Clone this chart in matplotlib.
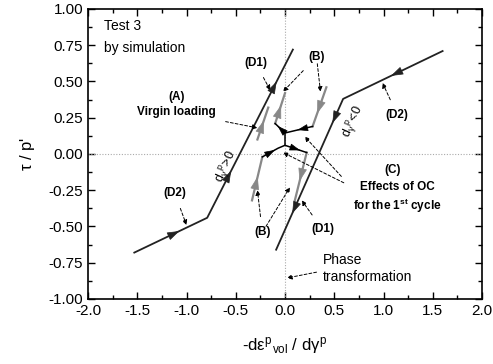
import matplotlib
matplotlib.use("Agg")
import matplotlib.pyplot as plt
from matplotlib.ticker import MultipleLocator

plt.rcParams['font.family'] = ['Liberation Sans', 'DejaVu Sans']
plt.rcParams['mathtext.fontset'] = 'custom'
plt.rcParams['mathtext.rm'] = 'Liberation Sans'
plt.rcParams['mathtext.it'] = 'Liberation Sans'
plt.rcParams['mathtext.bf'] = 'Liberation Sans:bold'

# main stress paths (black)
left_x = [-1.53, -0.79, 0.08]
left_y = [-0.68, -0.44, 0.72]
right_x = [1.60, 0.59, -0.09]
right_y = [0.71, 0.38, -0.66]

# grey (B) unloading / reloading segments
grey_x = [[-0.28, -0.17], [-0.10, 0.00], [0.42, 0.28], [-0.335, -0.23], [0.22, 0.10]]
grey_y = [[0.10, 0.32], [0.21, 0.42], [0.46, 0.19], [-0.32, -0.02], [0.01, -0.32]]

# black effects of OC in the middle
oc_up_x = [0.28, 0.00, -0.10]
oc_up_y = [0.19, 0.145, 0.21]
oc_mid_x = [0.00, 0.00]
oc_mid_y = [0.145, 0.06]
oc_low_x = [-0.23, -0.07, 0.00, 0.22]
oc_low_y = [-0.02, 0.04, 0.06, 0.01]


def arrow_on(ax, x0, y0, x1, y1, frac, color, size=13):
    # arrowhead placed at frac along a segment, pointing from 0 to 1
    px = x0 + (x1 - x0) * frac
    py = y0 + (y1 - y0) * frac
    bx = x0 + (x1 - x0) * (frac - 0.02)
    by = y0 + (y1 - y0) * (frac - 0.02)
    ax.annotate('', xy=(px, py), xytext=(bx, by),
                arrowprops=dict(arrowstyle='-|>,head_length=0.6,head_width=0.2',
                                color=color, lw=0.5,
                                mutation_scale=size, shrinkA=0, shrinkB=0))


def leader(ax, text, xy, xytext, **kw):
    ax.annotate(text, xy=xy, xytext=xytext, ha='center', va='center',
                fontsize=8.5, fontweight='bold',
                arrowprops=dict(arrowstyle='-|>', color='black', lw=0.7,
                                linestyle=(0, (3, 2)), mutation_scale=7,
                                shrinkA=5, shrinkB=0), **kw)


fig = plt.figure(figsize=(4.93, 3.64), dpi=100)
ax = fig.add_axes([0.1785, 0.1786, 0.7992, 0.7967])

ax.axhline(0, color='#aaaaaa', lw=0.8, ls=(0, (1, 1.5)))
ax.axvline(0, color='#aaaaaa', lw=0.8, ls=(0, (1, 1.5)))

dark = '#222222'
grey = '#888888'
ax.plot(left_x, left_y, color=dark, lw=1.3)
ax.plot(right_x, right_y, color=dark, lw=1.3)
arrow_on(ax, left_x[0], left_y[0], left_x[1], left_y[1], 0.62, dark)
arrow_on(ax, left_x[1], left_y[1], left_x[2], left_y[2], 0.28, dark)
arrow_on(ax, left_x[1], left_y[1], left_x[2], left_y[2], 0.81, dark)
arrow_on(ax, right_x[0], right_y[0], right_x[1], right_y[1], 0.52, dark)
arrow_on(ax, right_x[1], right_y[1], right_x[2], right_y[2], 0.16, dark)
arrow_on(ax, right_x[1], right_y[1], right_x[2], right_y[2], 0.76, dark)

for gx, gy, fr in zip(grey_x, grey_y, [0.6, 0.6, 0.67, 0.55, 0.6]):
    ax.plot(gx, gy, color=grey, lw=1.6)
    arrow_on(ax, gx[0], gy[0], gx[1], gy[1], fr, grey, size=14)

ax.plot(oc_up_x, oc_up_y, color='black', lw=1.1)
ax.plot(oc_mid_x, oc_mid_y, color='black', lw=1.1)
ax.plot(oc_low_x, oc_low_y, color='black', lw=1.1)
arrow_on(ax, oc_up_x[0], oc_up_y[0], oc_up_x[1], oc_up_y[1], 0.55, 'black', size=11)
arrow_on(ax, oc_up_x[1], oc_up_y[1], oc_up_x[2], oc_up_y[2], 0.75, 'black', size=11)
arrow_on(ax, oc_low_x[0], oc_low_y[0], oc_low_x[1], oc_low_y[1], 0.8, 'black', size=11)
arrow_on(ax, oc_low_x[2], oc_low_y[2], oc_low_x[3], oc_low_y[3], 0.7, 'black', size=11)

# texts
ax.text(-1.84, 0.88, 'Test 3', fontsize=10, va='center')
ax.text(-1.84, 0.73, 'by simulation', fontsize=10, va='center')
ax.text(-1.10, 0.39, '(A)', fontsize=8.5, fontweight='bold', ha='center', va='center')
leader(ax, 'Virgin loading', (-0.28, 0.18), (-1.10, 0.29))
leader(ax, '(D1)', (-0.15, 0.44), (-0.30, 0.63))
leader(ax, '(B)', (-0.02, 0.43), (0.32, 0.67))
leader(ax, '', (0.36, 0.43), (0.32, 0.67))
leader(ax, '(D2)', (0.99, 0.49), (1.14, 0.27))
leader(ax, '(D2)', (-1.00, -0.49), (-1.12, -0.27))
leader(ax, '(B)', (-0.28, -0.25), (-0.23, -0.54))
leader(ax, '', (0.05, -0.23), (-0.23, -0.54))
leader(ax, '(D1)', (0.17, -0.32), (0.38, -0.52))

ax.text(1.09, -0.11, '(C)', fontsize=8.5, fontweight='bold', ha='center', va='center')
ax.text(1.14, -0.23, 'Effects of OC', fontsize=8.5, fontweight='bold', ha='center', va='center')
ax.text(1.14, -0.355, 'for the 1$^{\\mathbf{st}}$ cycle', fontsize=8.5, fontweight='bold',
        ha='center', va='center')
leader(ax, '', (0.20, 0.12), (0.62, -0.19))
leader(ax, '', (-0.02, 0.01), (0.66, -0.22))

ax.text(0.70, 0.22, '$\\mathrm{d}_\\gamma{}^{\\mathrm{p}}\\!<\\!0$', fontsize=9, rotation=66,
        ha='center', va='center')
ax.text(-0.59, -0.09, '$\\mathrm{d}_\\gamma{}^{\\mathrm{p}}\\!>\\!0$', fontsize=9, rotation=66,
        ha='center', va='center')

ax.text(0.38, -0.73, 'Phase', fontsize=10, va='center')
ax.text(0.38, -0.85, 'transformation', fontsize=10, va='center')
ax.annotate('', xy=(0.02, -0.855), xytext=(0.32, -0.815),
            arrowprops=dict(arrowstyle='-|>', color='black', lw=0.7,
                            linestyle=(0, (3, 2)), mutation_scale=7,
                            shrinkA=0, shrinkB=0))

ax.set_xlim(-2.0, 2.0)
ax.set_ylim(-1.0, 1.0)
ax.xaxis.set_major_locator(MultipleLocator(0.5))
ax.xaxis.set_minor_locator(MultipleLocator(0.25))
ax.yaxis.set_major_locator(MultipleLocator(0.25))
ax.yaxis.set_minor_locator(MultipleLocator(0.125))
ax.xaxis.set_major_formatter(lambda v, p: '%.1f' % v)
ax.yaxis.set_major_formatter(lambda v, p: '%.2f' % v)
ax.tick_params(which='both', direction='in', top=True, right=True, labelsize=11, width=1)
ax.tick_params(which='major', length=5)
ax.tick_params(which='minor', length=3)
for s in ax.spines.values():
    s.set_linewidth(1.2)

ax.set_xlabel('-d$\\varepsilon^{\\mathrm{p}}{}_{\\mathrm{vol}}$ / d$\\gamma^{\\mathrm{p}}$', fontsize=12, labelpad=12)
ax.set_ylabel('$\\tau$ / p\'', fontsize=12, labelpad=8)

fig.savefig('out.png', dpi=100)
